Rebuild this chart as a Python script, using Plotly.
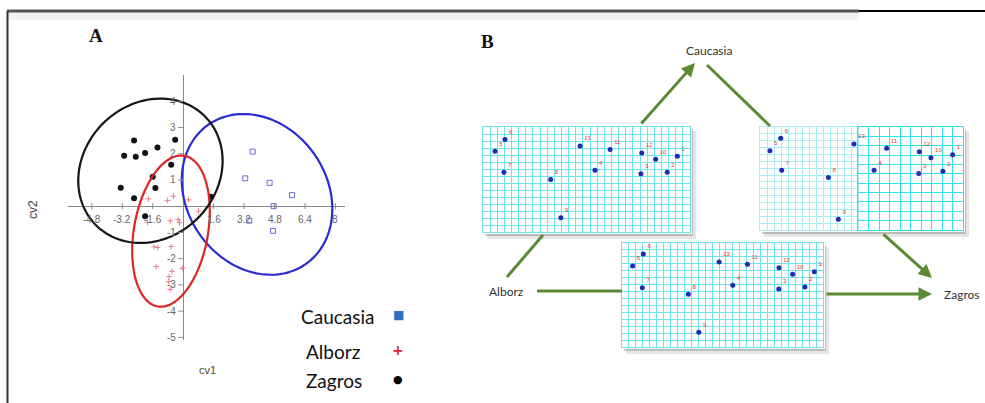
import numpy as np
import plotly.graph_objects as go

W, H = 985, 403

# ---------------- Panel A data (canonical variates) ----------------
caucasia_cv1 = [3.65, 3.26, 4.54, 5.72, 4.75, 4.72, 3.47]
caucasia_cv2 = [2.08, 1.06, 0.89, 0.42, 0.00, -0.94, -0.55]

alborz_cv1 = [-1.83, -0.83, -0.51, 0.28, 0.81, -0.68, -0.26, -0.19, -1.87,
              -1.53, -1.34, -0.63, -1.42, -0.59, -0.05, -0.74, -0.76, -0.68]
alborz_cv2 = [0.28, 0.22, 0.38, 0.24, -0.19, -0.56, -0.51, -0.63, -0.62,
              -1.55, -1.57, -1.54, -2.30, -2.48, -2.37, -2.68, -2.87, -3.17]

zagros_cv1 = [-2.58, -0.42, -3.10, -2.49, -2.00, -1.35, -0.63, -1.60, -1.46,
              -3.28, -2.58, -2.00, 1.46]
zagros_cv2 = [2.50, 2.53, 1.92, 1.88, 2.03, 2.24, 1.58, 1.12, 0.69,
              0.70, 0.30, -0.38, 0.36]

x_tick_vals = [-4.8, -3.2, -1.6, 1.6, 3.2, 4.8, 6.4, 8]
x_tick_text = ["-4.8", "-3.2", "-1.6", "1.6", "3.2", "4.8", "6.4", "8"]
y_tick_vals = [-5, -4, -3, -2, -1, 1, 2, 3, 4]
y_tick_text = ["-5", "-4", "-3", "-2", "-1", "1", "2", "3", "4"]

# ellipses: centre (cv1, cv2), semi-axes (px), tilt (deg)
ellipse_centres = {"Zagros": (-1.72, 1.35), "Alborz": (-0.64, -0.95), "Caucasia": (3.88, 0.45)}
ellipse_axes = {"Zagros": (77, 67, 45), "Alborz": (76.5, 37, 80), "Caucasia": (85, 70, 125)}
ellipse_colors = {"Zagros": "#151515", "Alborz": "#e02424", "Caucasia": "#2b2bd6"}

group_names = ["Caucasia", "Alborz", "Zagros"]

# ---------------- Panel B data (landmarks on deformation grids) ----------------
landmark_ids = ["6", "5", "13", "11", "12", "10", "1", "7", "8", "4", "3", "2", "9"]
grid1_u = [0.106, 0.058, 0.469, 0.614, 0.767, 0.834, 0.939, 0.101, 0.327, 0.541, 0.763, 0.890, 0.376]
grid1_v = [0.120, 0.230, 0.180, 0.215, 0.248, 0.307, 0.279, 0.430, 0.500, 0.413, 0.445, 0.430, 0.864]
grid2_u = [0.102, 0.049, 0.463, 0.624, 0.785, 0.842, 0.949, 0.107, 0.337, 0.562, 0.782, 0.901, 0.386]
grid2_v = [0.110, 0.230, 0.165, 0.207, 0.240, 0.298, 0.269, 0.420, 0.491, 0.420, 0.452, 0.430, 0.896]
grid3_u = [0.106, 0.053, 0.483, 0.624, 0.781, 0.849, 0.957, 0.101, 0.330, 0.551, 0.780, 0.910, 0.382]
grid3_v = [0.106, 0.221, 0.183, 0.205, 0.237, 0.301, 0.276, 0.430, 0.493, 0.407, 0.442, 0.423, 0.859]

# ---------------- layout helpers ----------------
def PX(px):
    return px / W

def PY(py):
    return 1 - py / H

A_left, A_right, A_top, A_bottom = 68, 345, 75, 340
x_range = [-6.05, 8.5]
y_range = [-5.1, 5.0]
ppx = (A_right - A_left) / (x_range[1] - x_range[0])
ppy = (A_bottom - A_top) / (y_range[1] - y_range[0])

fig = go.Figure()

# ---- Panel A traces
fig.add_trace(go.Scatter(x=caucasia_cv1, y=caucasia_cv2, mode="markers", name="Caucasia",
                         marker=dict(symbol="square-open", size=5, color="#6a6ad8", line=dict(width=1)),
                         xaxis="x", yaxis="y", showlegend=False))
fig.add_trace(go.Scatter(x=alborz_cv1, y=alborz_cv2, mode="markers", name="Alborz",
                         marker=dict(symbol="cross-thin-open", size=4, color="#e8808a",
                                     line=dict(width=1, color="#e8808a")),
                         xaxis="x", yaxis="y", showlegend=False))
fig.add_trace(go.Scatter(x=zagros_cv1, y=zagros_cv2, mode="markers", name="Zagros",
                         marker=dict(symbol="circle", size=6, color="#111111"),
                         xaxis="x", yaxis="y", showlegend=False))

shapes = []
annotations = []

def note(px_, py_, text, size, color, family="Lato", xanchor="center", angle=0):
    annotations.append(dict(x=PX(px_), y=PY(py_), xref="paper", yref="paper", text=text, showarrow=False,
                            xanchor=xanchor, yanchor="middle", textangle=angle,
                            font=dict(family=family, size=size, color=color)))

def ellipse_path(cx, cy, a, b, theta):
    t = np.linspace(0, 2 * np.pi, 120)
    th = np.radians(theta)
    u = a * np.cos(t) * np.cos(th) - b * np.sin(t) * np.sin(th)
    v = a * np.cos(t) * np.sin(th) + b * np.sin(t) * np.cos(th)
    xs = cx + u / ppx
    ys = cy + v / ppy
    return "M " + " L ".join(f"{x:.4f},{y:.4f}" for x, y in zip(xs, ys)) + " Z"

for g in group_names:
    cx, cy = ellipse_centres[g]
    a, b, th = ellipse_axes[g]
    shapes.append(dict(type="path", xref="x", yref="y", path=ellipse_path(cx, cy, a, b, th),
                       line=dict(color=ellipse_colors[g], width=2.2)))

# tick marks and labels
for v, t in zip(x_tick_vals, x_tick_text):
    shapes.append(dict(type="line", xref="x", yref="y", ysizemode="pixel", yanchor=0,
                       x0=v, x1=v, y0=-3, y1=3, line=dict(color="#8a8a8a", width=1)))
    annotations.append(dict(x=v, y=0, xref="x", yref="y", text=t, showarrow=False, yshift=-13,
                            xanchor="center", yanchor="middle",
                            font=dict(family="Liberation Sans", size=10, color="#666666")))
for v, t in zip(y_tick_vals, y_tick_text):
    shapes.append(dict(type="line", xref="x", yref="y", xsizemode="pixel", xanchor=0,
                       x0=-5, x1=0, y0=v, y1=v, line=dict(color="#8a8a8a", width=1)))
    annotations.append(dict(x=0, y=v, xref="x", yref="y", text=t, showarrow=False, xanchor="right",
                            yanchor="middle", xshift=-5,
                            font=dict(family="Liberation Sans", size=10, color="#666666")))

# axis titles
note(207, 370, "cv1", 11, "#444444", family="Liberation Sans")
note(33, 210, "cv2", 12, "#444444", family="Liberation Sans", angle=-90)

# legend (text + symbol)
legend_rows = [(316, "Caucasia", "■", "#2f6fc4", 12, 299),
               (351, "Alborz", "+", "#e0202a", 14, 304),
               (380, "Zagros", "●", "#000000", 11, 304)]
for py, name, sym, col, sz, lx in legend_rows:
    note(lx, py, name, 19, "#111111", xanchor="left")
    note(398, py - 1, f"<b>{sym}</b>", sz, col, family="DejaVu Sans")

# panel letters
note(96, 35, "<b>A</b>", 19, "#111111", family="Liberation Serif")
note(487, 42, "<b>B</b>", 19, "#111111", family="Liberation Serif")

# ---- Panel B: grid boxes
boxes = {
    "g1": (483, 127, 690, 232),
    "g2": (760, 127, 963, 230),
    "g3": (622, 243, 823, 347),
}
for k, (x0, y0, x1, y1) in boxes.items():
    shapes.append(dict(type="rect", xref="paper", yref="paper", layer="below",
                       x0=PX(x0 + 4), x1=PX(x1 + 6), y0=PY(y1 + 7), y1=PY(y0 + 4),
                       fillcolor="rgba(0,0,0,0.10)", line=dict(width=0)))
    shapes.append(dict(type="rect", xref="paper", yref="paper", layer="below",
                       x0=PX(x0 + 2), x1=PX(x1 + 3), y0=PY(y1 + 4), y1=PY(y0 + 2),
                       fillcolor="rgba(0,0,0,0.18)", line=dict(width=0)))
    shapes.append(dict(type="rect", xref="paper", yref="paper", layer="below",
                       x0=PX(x0 - 2), x1=PX(x1 + 2), y0=PY(y1 + 2), y1=PY(y0 - 2),
                       fillcolor="white", line=dict(width=0)))

def grid_axes(x0, y0, x1, y1, ncol, nrow, color):
    xa = dict(domain=[PX(x0), PX(x1)], range=[0, 1], showgrid=True, gridcolor=color, gridwidth=1,
              dtick=1 / ncol, tick0=0, showticklabels=False, ticks="", zeroline=False,
              showline=True, mirror=True, linecolor=color, linewidth=1, fixedrange=True)
    ya = dict(domain=[PY(y1), PY(y0)], range=[1, 0], showgrid=True, gridcolor=color, gridwidth=1,
              dtick=1 / nrow, tick0=0, showticklabels=False, ticks="", zeroline=False,
              showline=True, mirror=True, linecolor=color, linewidth=1, fixedrange=True)
    return xa, ya

def hidden_axes(x0, y0, x1, y1):
    xa = dict(domain=[PX(x0), PX(x1)], range=[0, 1], visible=False, fixedrange=True)
    ya = dict(domain=[PY(y1), PY(y0)], range=[1, 0], visible=False, fixedrange=True)
    return xa, ya

b1, b2, b3 = boxes["g1"], boxes["g2"], boxes["g3"]
x2a, y2a = grid_axes(*b1, 29, 15, "#6fe3ea")
x3a, y3a = grid_axes(b2[0], b2[1], 858, b2[3], 14, 15, "#a9eef2")
x4a, y4a = grid_axes(*b3, 29, 15, "#6fe3ea")
x5a, y5a = grid_axes(858, b2[1], b2[2], b2[3], 10, 11, "#2fe3ee")
x6a, y6a = hidden_axes(*b2)
x7a, y7a = hidden_axes(*b1)
x8a, y8a = hidden_axes(*b3)

# invisible traces so the grid-only axes render
for ax in ["2", "3", "4", "5"]:
    fig.add_trace(go.Scatter(x=[None], y=[None], xaxis="x" + ax, yaxis="y" + ax, showlegend=False,
                             hoverinfo="skip"))

lm_marker = dict(size=5, color="#1a2bb8")
lm_font = dict(family="Liberation Sans", size=6, color="#e8303a")
for u, v, ax in [(grid2_u, grid2_v, "6"), (grid1_u, grid1_v, "7"), (grid3_u, grid3_v, "8")]:
    fig.add_trace(go.Scatter(x=u, y=v, mode="markers+text", text=landmark_ids, textposition="top right",
                             textfont=lm_font, marker=lm_marker, xaxis="x" + ax, yaxis="y" + ax,
                             showlegend=False, cliponaxis=False))

# arrows / connector lines
green = "#5a8a32"
for (tx, ty), (hx, hy) in [((640, 125), (695, 63)), ((882, 233), (932, 278)), ((825, 294), (932, 294))]:
    annotations.append(dict(x=PX(hx), y=PY(hy), xref="paper", yref="paper", ax=tx - hx, ay=ty - hy,
                            axref="pixel", ayref="pixel", showarrow=True, arrowhead=2, arrowsize=0.9,
                            arrowwidth=3, arrowcolor=green, text=""))
for (ax0, ay0), (ax1, ay1) in [((707, 65), (770, 126)), ((507, 277), (543, 235)), ((537, 291), (622, 291))]:
    shapes.append(dict(type="line", xref="paper", yref="paper", x0=PX(ax0), y0=PY(ay0), x1=PX(ax1), y1=PY(ay1),
                       line=dict(color=green, width=3)))

note(709, 50, "Caucasia", 12, "#333333")
note(506, 291, "Alborz", 12, "#333333")
note(962, 294, "Zagros", 12, "#333333")

# frame
shapes.append(dict(type="rect", xref="paper", yref="paper", x0=PX(8), x1=PX(859), y0=PY(20), y1=PY(12),
                   fillcolor="rgba(0,0,0,0.05)", line=dict(width=0), layer="below"))
shapes.append(dict(type="line", xref="paper", yref="paper", x0=PX(7), x1=PX(859), y0=PY(11), y1=PY(11),
                   line=dict(color="#555555", width=3)))
shapes.append(dict(type="line", xref="paper", yref="paper", x0=PX(859), x1=1, y0=PY(11), y1=PY(11),
                   line=dict(color="#000000", width=2)))
shapes.append(dict(type="line", xref="paper", yref="paper", x0=PX(7.5), x1=PX(7.5), y0=PY(11), y1=0,
                   line=dict(color="#333333", width=2)))

fig.update_layout(
    width=W, height=H, margin=dict(l=0, r=0, t=0, b=0),
    paper_bgcolor="white", plot_bgcolor="rgba(0,0,0,0)",
    xaxis=dict(domain=[PX(A_left), PX(A_right)], range=x_range, showgrid=False, showticklabels=False,
               ticks="", zeroline=True, zerolinecolor="#8a8a8a", zerolinewidth=1, fixedrange=True),
    yaxis=dict(domain=[PY(A_bottom), PY(A_top)], range=y_range, showgrid=False, showticklabels=False,
               ticks="", zeroline=True, zerolinecolor="#8a8a8a", zerolinewidth=1, fixedrange=True),
    xaxis2=dict(x2a, anchor="y2"), yaxis2=dict(y2a, anchor="x2"),
    xaxis3=dict(x3a, anchor="y3"), yaxis3=dict(y3a, anchor="x3"),
    xaxis4=dict(x4a, anchor="y4"), yaxis4=dict(y4a, anchor="x4"),
    xaxis5=dict(x5a, anchor="y5"), yaxis5=dict(y5a, anchor="x5"),
    xaxis6=dict(x6a, anchor="y6"), yaxis6=dict(y6a, anchor="x6"),
    xaxis7=dict(x7a, anchor="y7"), yaxis7=dict(y7a, anchor="x7"),
    xaxis8=dict(x8a, anchor="y8"), yaxis8=dict(y8a, anchor="x8"),
    shapes=shapes, annotations=annotations, showlegend=False,
)

fig.write_html("out.html", config={"displayModeBar": False},
               post_script="document.body.style.margin='0px';")
